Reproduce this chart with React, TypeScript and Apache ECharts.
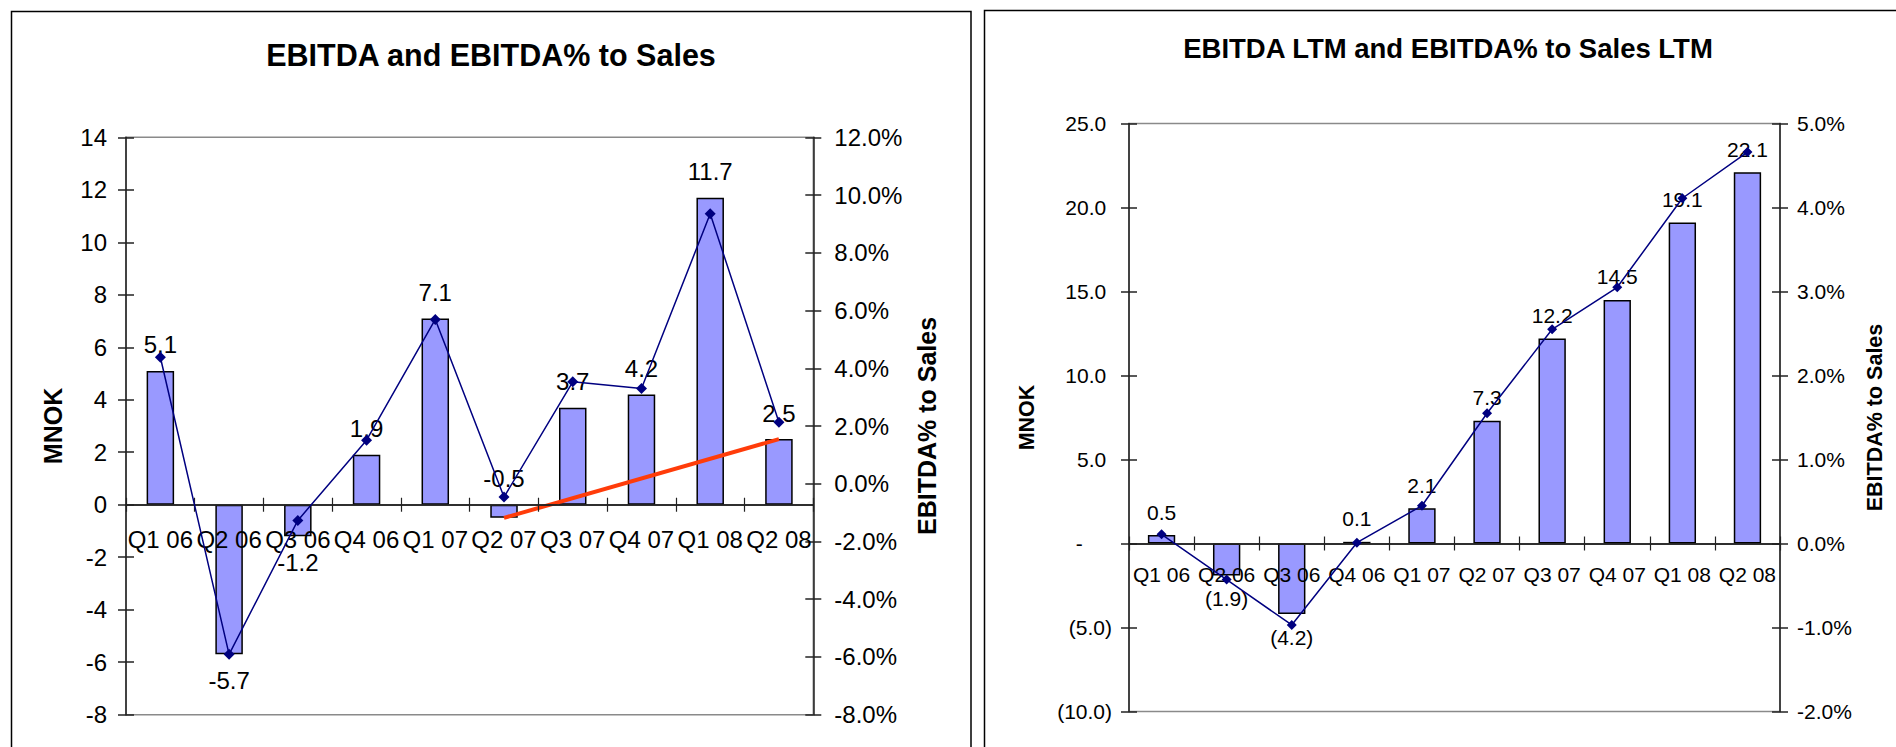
import React, { useEffect, useRef } from "react";
import * as echarts from "echarts";

// ---------- data ----------
const quarters = ["Q1 06", "Q2 06", "Q3 06", "Q4 06", "Q1 07", "Q2 07", "Q3 07", "Q4 07", "Q1 08", "Q2 08"];

// Left chart: quarterly EBITDA (MNOK) and EBITDA% to sales
const ebitda = [5.1, -5.7, -1.2, 1.9, 7.1, -0.5, 3.7, 4.2, 11.7, 2.5];
const ebitdaPct = [4.38, -5.91, -1.27, 1.51, 5.69, -0.46, 3.53, 3.3, 9.35, 2.13];
const trendLine = [null, null, null, null, null, -0.5, null, null, null, 2.5];

// Right chart: LTM EBITDA (MNOK) and LTM EBITDA% to sales
const ebitdaLtm = [0.5, -1.9, -4.2, 0.1, 2.1, 7.3, 12.2, 14.5, 19.1, 22.1];
const ebitdaPctLtm = [0.11, -0.43, -0.97, 0.01, 0.45, 1.55, 2.55, 3.05, 4.11, 4.66];

// Axis scales
const leftValueTicks = { min: -8, max: 14, interval: 2 };
const leftPctTicks = { min: -8, max: 12, interval: 2 };
const rightValueTicks = { min: -10, max: 25, interval: 5 };
const rightPctTicks = { min: -2, max: 5, interval: 1 };

const leftTitle = "EBITDA and EBITDA% to Sales";
const rightTitle = "EBITDA LTM and EBITDA% to Sales LTM";
const valueAxisName = "MNOK";
const pctAxisName = "EBITDA% to Sales";

// ---------- styles ----------
const FONT = "'Liberation Sans', Arial, Helvetica, sans-serif";
const AXIS_COLOR = "#222";
const BORDER_GRAY = "#8a8a8a";
const BAR_COLOR = "#9999FF";
const LINE_COLOR = "#000080";
const TREND_COLOR = "#FF3C0A";
const NBSP = "\u00A0";

const LEFT_GRID = { left: 126, top: 137.3, width: 687.3, height: 577.4 };
const RIGHT_GRID = { left: 1129, top: 123.5, width: 651, height: 588 };

const fmtPlain = (v: number) => v.toFixed(0);
const fmtPct = (v: number) => v.toFixed(1) + "%";
const fmtAcct = (v: number) => {
  if (Math.abs(v) < 1e-9) return "-" + NBSP.repeat(5);
  if (v < 0) return "(" + Math.abs(v).toFixed(1) + ")";
  return v.toFixed(1) + NBSP;
};

// distance (px) from the bottom of the grid up to the value-axis zero line
const zeroOffset = (scale: { min: number; max: number }, gridHeight: number) =>
  -((0 - scale.min) / (scale.max - scale.min)) * gridHeight;

function valueAxis(o: any) {
  return {
    type: "value",
    gridIndex: o.grid,
    position: o.position,
    min: o.scale.min,
    max: o.scale.max,
    interval: o.scale.interval,
    splitLine: { show: false },
    axisLine: { show: true, onZero: false, lineStyle: { color: AXIS_COLOR, width: 1.5 } },
    axisTick: { show: true, inside: false, length: 8, lineStyle: { color: AXIS_COLOR, width: 1.5 } },
    axisLabel: {
      show: true,
      color: "#000",
      fontFamily: FONT,
      fontSize: o.fontSize,
      margin: o.margin,
      formatter: o.formatter,
    },
    name: o.name,
    nameLocation: "middle",
    nameRotate: 90,
    nameGap: o.nameGap,
    nameTextStyle: { color: "#000", fontFamily: FONT, fontWeight: "bold", fontSize: o.nameSize },
  };
}

function dupValueAxis(o: any) {
  return {
    type: "value",
    gridIndex: o.grid,
    position: o.position,
    min: o.scale.min,
    max: o.scale.max,
    interval: o.scale.interval,
    splitLine: { show: false },
    axisLine: { show: false, onZero: false },
    axisTick: { show: true, inside: true, length: 8, lineStyle: { color: AXIS_COLOR, width: 1.5 } },
    axisLabel: { show: false },
  };
}

function catAxis(grid: number, offset: number, fontSize: number, margin: number, inside: boolean, showLabel: boolean) {
  return {
    type: "category",
    gridIndex: grid,
    position: "bottom",
    offset,
    z: 10,
    data: quarters,
    boundaryGap: true,
    axisLine: { show: true, onZero: false, lineStyle: { color: AXIS_COLOR, width: 1.5 } },
    axisTick: { show: true, inside, length: 7, alignWithLabel: false, lineStyle: { color: AXIS_COLOR, width: 1.2 } },
    axisLabel: { show: showLabel, interval: 0, color: "#000", fontFamily: FONT, fontSize, margin, hideOverlap: false },
    splitLine: { show: false },
  };
}

function barData(values: number[]) {
  return values.map((v) => ({ value: v, label: { position: v < -1 ? "bottom" : "top" } }));
}

export default function App() {
  const ref = useRef<HTMLDivElement>(null);

  useEffect(() => {
    const chart = echarts.init(ref.current!, null, { renderer: "svg" });

    const leftOff = zeroOffset(leftValueTicks, LEFT_GRID.height);
    const rightOff = zeroOffset(rightValueTicks, RIGHT_GRID.height);

    const option: any = {
      animation: false,
      backgroundColor: "#ffffff",
      textStyle: { fontFamily: FONT },
      grid: [
        { ...LEFT_GRID, show: true, borderColor: BORDER_GRAY, borderWidth: 1.5, containLabel: false },
        { ...RIGHT_GRID, show: true, borderColor: BORDER_GRAY, borderWidth: 1.5, containLabel: false },
      ],
      xAxis: [
        catAxis(0, leftOff, 24, 23, false, true),
        catAxis(0, leftOff, 24, 23, true, false),
        catAxis(1, rightOff, 21, 20, false, true),
        catAxis(1, rightOff, 21, 20, true, false),
      ],
      yAxis: [
        valueAxis({ grid: 0, position: "left", scale: leftValueTicks, fontSize: 24, margin: 19, formatter: fmtPlain, name: valueAxisName, nameGap: 61, nameSize: 25 }),
        valueAxis({ grid: 0, position: "right", scale: leftPctTicks, fontSize: 24, margin: 21, formatter: fmtPct, name: pctAxisName, nameGap: 101, nameSize: 25 }),
        dupValueAxis({ grid: 0, position: "left", scale: leftValueTicks }),
        dupValueAxis({ grid: 0, position: "right", scale: leftPctTicks }),
        valueAxis({ grid: 1, position: "left", scale: rightValueTicks, fontSize: 21, margin: 17, formatter: fmtAcct, name: valueAxisName, nameGap: 91, nameSize: 21.5 }),
        valueAxis({ grid: 1, position: "right", scale: rightPctTicks, fontSize: 21, margin: 17, formatter: fmtPct, name: pctAxisName, nameGap: 84, nameSize: 21.5 }),
        dupValueAxis({ grid: 1, position: "left", scale: rightValueTicks }),
        dupValueAxis({ grid: 1, position: "right", scale: rightPctTicks }),
      ],
      series: [
        {
          type: "bar",
          name: "EBITDA",
          xAxisIndex: 0,
          yAxisIndex: 0,
          barWidth: "40%",
          data: barData(ebitda),
          itemStyle: { color: BAR_COLOR, borderColor: "#000", borderWidth: 1.5 },
          label: {
            show: true,
            distance: 14,
            color: "#000",
            fontFamily: FONT,
            fontSize: 24,
            formatter: (p: any) => Number(p.value).toFixed(1),
          },
          z: 2,
        },
        {
          type: "line",
          name: "Trend",
          xAxisIndex: 0,
          yAxisIndex: 0,
          data: trendLine,
          connectNulls: true,
          showSymbol: false,
          symbol: "none",
          lineStyle: { color: TREND_COLOR, width: 4 },
          z: 3,
        },
        {
          type: "line",
          name: "EBITDA%",
          xAxisIndex: 0,
          yAxisIndex: 1,
          data: ebitdaPct,
          symbol: "diamond",
          symbolSize: 11,
          lineStyle: { color: LINE_COLOR, width: 1.5 },
          itemStyle: { color: LINE_COLOR },
          z: 12,
        },
        {
          type: "bar",
          name: "EBITDA LTM",
          xAxisIndex: 2,
          yAxisIndex: 4,
          barWidth: "42%",
          data: barData(ebitdaLtm),
          itemStyle: { color: BAR_COLOR, borderColor: "#000", borderWidth: 1.5 },
          label: {
            show: true,
            distance: 12.5,
            color: "#000",
            fontFamily: FONT,
            fontSize: 21,
            formatter: (p: any) => {
              const v = Number(p.value);
              return v < 0 ? "(" + Math.abs(v).toFixed(1) + ")" : v.toFixed(1);
            },
          },
          z: 2,
        },
        {
          type: "line",
          name: "EBITDA% LTM",
          xAxisIndex: 2,
          yAxisIndex: 5,
          data: ebitdaPctLtm,
          symbol: "diamond",
          symbolSize: 10,
          lineStyle: { color: LINE_COLOR, width: 1.5 },
          itemStyle: { color: LINE_COLOR },
          z: 12,
        },
      ],
      graphic: [
        {
          type: "rect",
          silent: true,
          z: -10,
          shape: { x: 11.5, y: 11.5, width: 959.5, height: 780 },
          style: { fill: "none", stroke: "#000", lineWidth: 1.5 },
        },
        {
          type: "rect",
          silent: true,
          z: -10,
          shape: { x: 984.5, y: 10.5, width: 960, height: 780 },
          style: { fill: "none", stroke: "#000", lineWidth: 1.5 },
        },
        {
          type: "text",
          silent: true,
          x: 491,
          y: 55,
          style: {
            text: leftTitle,
            fill: "#000",
            font: "bold 30.5px " + FONT,
            fontWeight: "bold",
            fontSize: 30.5,
            fontFamily: FONT,
            align: "center",
            verticalAlign: "middle",
            textAlign: "center",
            textVerticalAlign: "middle",
          },
        },
        {
          type: "text",
          silent: true,
          x: 1448,
          y: 48,
          style: {
            text: rightTitle,
            fill: "#000",
            font: "bold 27.5px " + FONT,
            fontWeight: "bold",
            fontSize: 27.5,
            fontFamily: FONT,
            align: "center",
            verticalAlign: "middle",
            textAlign: "center",
            textVerticalAlign: "middle",
          },
        },
      ],
    };

    chart.setOption(option);
    return () => chart.dispose();
  }, []);

  return (
    <div
      ref={ref}
      style={{ position: "absolute", left: 0, top: 0, width: 1896, height: 747, background: "#fff" }}
    />
  );
}
